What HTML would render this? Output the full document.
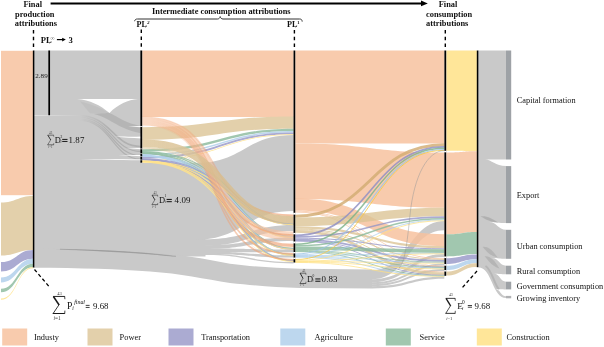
<!DOCTYPE html>
<html><head><meta charset="utf-8">
<style>
html,body{margin:0;padding:0;background:#fff;}
body{width:604px;height:347px;overflow:hidden;position:relative;}
svg{position:absolute;left:0;top:0;font-family:"Liberation Serif",serif;will-change:transform;}
</style></head><body>
<svg width="604" height="347" viewBox="0 0 604 347">
<rect x="1" y="50.8" width="32.2" height="144.4" fill="#F8CBAD"/>
<path d="M1,202.5 C16,202.5 18,196 33.2,196 L33.2,250 C18,250 16,255.5 1,255.5 Z" fill="#E3D0AB"/>
<path d="M1,262.1 C17.1,262.1 17.1,250 33.2,250 L33.2,258.8 C17.1,258.8 17.1,271.5 1,271.5 Z" fill="#ABABD2"/>
<path d="M1,277.5 C17.1,277.5 17.1,258.8 33.2,258.8 L33.2,263.8 C17.1,263.8 17.1,282.4 1,282.4 Z" fill="#BDD7EE"/>
<path d="M1,288.8 C17.1,288.8 17.1,263.8 33.2,263.8 L33.2,267.2 C17.1,267.2 17.1,292.2 1,292.2 Z" fill="#A1C7AF"/>
<path d="M1,298.5 C17.1,298.5 17.1,267.2 33.2,267.2 L33.2,268.2 C17.1,268.2 17.1,299.7 1,299.7 Z" fill="#FFE699"/>
<path d="M34,50.5 L141.3,50.5 L141.3,162.7 L205.5,162.7 L205.5,256.6 L176,256.6 L175,256.3 C140,252.5 100,250 34,249 Z" fill="#C9C9C9"/>
<path d="M34,248.6 C80,249.2 120,250.8 150,252.5 C180,254 205,259 230,263.7 C255,267 275,268 300,268.8 L372,269.5 L372,288.5 L300,288 C275,287.5 255,285.5 230,283 C205,279 180,273.5 150,271.5 C120,269 80,268 34,267.7 Z" fill="#C9C9C9"/>
<path d="M77,99 L138,99 C128,100 118,104 109.5,113 C100,105 90,100 77,99 Z" fill="#fff"/>
<path d="M108.7,112.7 C118,116.5 126,123.5 141,125.9 L141,133.2 C128,131 118,125.5 108,119.5 C103,116.8 99,115.2 94,114 C99,113.8 104,113.5 108.7,112.7 Z" fill="#8c8c8c" fill-opacity="0.32"/>
<path d="M80,101.5 C92,104 100,108 108.7,112.7 C101,113.6 96,113.8 90,113.2 C87,110 84,106 80,101.5 Z" fill="#8c8c8c" fill-opacity="0.12"/>
<linearGradient id="gsg" x1="80" y1="0" x2="108" y2="0" gradientUnits="userSpaceOnUse"><stop offset="0" stop-color="#8c8c8c" stop-opacity="0"/><stop offset="1" stop-color="#8c8c8c" stop-opacity="0.4"/></linearGradient>
<path d="M78,115.5 C112,115.5 112,146.5 141,146.5" fill="none" stroke="url(#gsg)" stroke-width="1.6"/>
<path d="M78,117.2 C112,117.2 112,151.5 141,151.5" fill="none" stroke="url(#gsg)" stroke-width="1.3"/>
<path d="M78,118.8 C112,118.8 112,155.5 141,155.5" fill="none" stroke="url(#gsg)" stroke-width="1.3"/>
<path d="M78,120.2 C112,120.2 112,159.2 141,159.2" fill="none" stroke="url(#gsg)" stroke-width="1.2"/>
<path d="M34,115.2 L82,115.6 L34,116.1 Z" fill="#fff" fill-opacity="0.55"/>
<path d="M128,126.4 L141,126 L141,127.3 Z" fill="#fff"/>
<path d="M115,136.5 C125,136.5 132,137 141,136.5 L141,138.5 C132,138 125,137.5 115,136.5 Z" fill="#fff"/>
<path d="M126,148 L141,148 L141,149.3 Z" fill="#fff"/>
<path d="M118,155 L141,155 L141,156.3 Z" fill="#fff"/>
<path d="M80,159 C100,159 115,159 141,159.2 L141,160.3 C115,160 100,159.6 80,159 Z" fill="#fff" fill-opacity="0.85"/>
<path d="M55,249 C100,249.8 140,251.6 176,256.4 C140,253.4 100,251.2 55,249 Z" fill="#8c8c8c" fill-opacity="0.55"/>
<path d="M60,249.2 C100,250 140,251.8 176,256.4" fill="none" stroke="#8c8c8c" stroke-opacity="0.45" stroke-width="1.1"/>
<path d="M195,163.0 C244.3,163.0 244.3,134.9 293.6,134.9 L293.6,211.10000000000002 C244.3,211.10000000000002 244.3,239.7 195,239.7 Z" fill="#C9C9C9"/>
<path d="M205,239.2 C249.3,239.2 249.3,224.99999999999997 293.6,224.99999999999997 L293.6,230.99999999999997 C249.3,230.99999999999997 249.3,245.7 205,245.7 Z" fill="#C9C9C9"/>
<path d="M205,245.2 C249.3,245.2 249.3,237.6 293.6,237.6 L293.6,241.0 C249.3,241.0 249.3,249.1 205,249.1 Z" fill="#C9C9C9"/>
<path d="M205,248.6 C249.3,248.6 249.3,249.5 293.6,249.5 L293.6,252.3 C249.3,252.3 249.3,251.9 205,251.9 Z" fill="#C9C9C9"/>
<path d="M205,251.4 C249.3,251.4 249.3,255.4 293.6,255.4 L293.6,257.6 C249.3,257.6 249.3,254.1 205,254.1 Z" fill="#C9C9C9"/>
<path d="M205,253.6 C249.3,253.6 249.3,262.0000000000001 293.6,262.0000000000001 L293.6,263.4000000000001 C249.3,263.4000000000001 249.3,255.0 205,255.0 Z" fill="#C9C9C9"/>
<path d="M142.3,50.5 C217.95000000000002,50.5 217.95000000000002,50.5 293.6,50.5 L293.6,117.1 C217.95000000000002,117.1 217.95000000000002,117.1 142.3,117.1 Z" fill="#F8CBAD"/>
<path d="M142.3,127.2 C217.95000000000002,127.2 217.95000000000002,116.5 293.6,116.5 L293.6,128.7 C217.95000000000002,128.7 217.95000000000002,139.9 142.3,139.9 Z" fill="#E3D0AB"/>
<path d="M142.3,149.2 C222,149.2 222,128.7 293.6,128.7 L293.6,131.0 C222,131.0 222,151.5 142.3,151.5 Z" fill="#97c1a6" fill-opacity="0.9"/>
<path d="M142.3,153.9 C222,153.9 222,131.0 293.6,131.0 L293.6,132.5 C222,132.5 222,155.4 142.3,155.4 Z" fill="#b6d3ec" fill-opacity="0.9"/>
<path d="M142.3,156.8 C222,156.8 222,132.5 293.6,132.5 L293.6,134.3 C222,134.3 222,158.60000000000002 142.3,158.60000000000002 Z" fill="#a2a2cd" fill-opacity="0.9"/>
<path d="M142.3,160.2 C222,160.2 222,134.3 293.6,134.3 L293.6,134.9 C222,134.9 222,160.79999999999998 142.3,160.79999999999998 Z" fill="#ffe38e" fill-opacity="0.9"/>
<path d="M142.3,147.30 C234,147.30 214,236.00 293.6,236.00" fill="none" stroke="#dec89c" stroke-opacity="0.85" stroke-width="0.60"/>
<path d="M142.3,147.90 C234,147.90 214,247.90 293.6,247.90" fill="none" stroke="#dec89c" stroke-opacity="0.85" stroke-width="0.60"/>
<path d="M142.3,148.35 C234,148.35 214,254.55 293.6,254.55" fill="none" stroke="#dec89c" stroke-opacity="0.85" stroke-width="0.30"/>
<path d="M142.3,148.65 C234,148.65 214,260.45 293.6,260.45" fill="none" stroke="#dec89c" stroke-opacity="0.85" stroke-width="0.30"/>
<path d="M142.3,151.70 C234,151.70 230,224.00 293.6,224.00" fill="none" stroke="#94bfa4" stroke-opacity="0.88" stroke-width="1.10"/>
<path d="M142.3,152.10 C234,152.10 230,236.50 293.6,236.50" fill="none" stroke="#94bfa4" stroke-opacity="0.88" stroke-width="1.10"/>
<path d="M142.3,152.75 C234,152.75 230,248.65 293.6,248.65" fill="none" stroke="#94bfa4" stroke-opacity="0.88" stroke-width="1.10"/>
<path d="M142.3,153.30 C234,153.30 230,254.80 293.6,254.80" fill="none" stroke="#94bfa4" stroke-opacity="0.88" stroke-width="1.10"/>
<path d="M142.3,153.45 C234,153.45 230,260.65 293.6,260.65" fill="none" stroke="#94bfa4" stroke-opacity="0.88" stroke-width="1.10"/>
<path d="M142.3,155.45 C234,155.45 230,224.25 293.6,224.25" fill="none" stroke="#b4d2ec" stroke-opacity="0.88" stroke-width="1.10"/>
<path d="M142.3,155.60 C234,155.60 230,236.80 293.6,236.80" fill="none" stroke="#b4d2ec" stroke-opacity="0.88" stroke-width="1.10"/>
<path d="M142.3,155.80 C234,155.80 230,249.20 293.6,249.20" fill="none" stroke="#b4d2ec" stroke-opacity="0.88" stroke-width="1.10"/>
<path d="M142.3,156.05 C234,156.05 230,255.05 293.6,255.05" fill="none" stroke="#b4d2ec" stroke-opacity="0.88" stroke-width="1.10"/>
<path d="M142.3,156.25 C234,156.25 230,260.75 293.6,260.75" fill="none" stroke="#b4d2ec" stroke-opacity="0.88" stroke-width="1.10"/>
<path d="M142.3,158.70 C234,158.70 230,224.40 293.6,224.40" fill="none" stroke="#a0a0cc" stroke-opacity="0.88" stroke-width="1.10"/>
<path d="M142.3,159.10 C234,159.10 230,237.20 293.6,237.20" fill="none" stroke="#a0a0cc" stroke-opacity="0.88" stroke-width="1.10"/>
<path d="M142.3,159.45 C234,159.45 230,249.35 293.6,249.35" fill="none" stroke="#a0a0cc" stroke-opacity="0.88" stroke-width="1.10"/>
<path d="M142.3,159.55 C234,159.55 230,255.25 293.6,255.25" fill="none" stroke="#a0a0cc" stroke-opacity="0.88" stroke-width="1.10"/>
<path d="M142.3,159.65 C234,159.65 230,260.85 293.6,260.85" fill="none" stroke="#a0a0cc" stroke-opacity="0.88" stroke-width="1.10"/>
<path d="M142.3,161.05 C234,161.05 230,224.75 293.6,224.75" fill="none" stroke="#ffe38b" stroke-opacity="0.88" stroke-width="1.10"/>
<path d="M142.3,161.35 C234,161.35 230,237.55 293.6,237.55" fill="none" stroke="#ffe38b" stroke-opacity="0.88" stroke-width="1.10"/>
<path d="M142.3,161.45 C234,161.45 230,249.45 293.6,249.45" fill="none" stroke="#ffe38b" stroke-opacity="0.88" stroke-width="1.10"/>
<path d="M142.3,161.55 C234,161.55 230,255.35 293.6,255.35" fill="none" stroke="#ffe38b" stroke-opacity="0.88" stroke-width="1.10"/>
<path d="M142.3,162.15 C234,162.15 230,261.45 293.6,261.45" fill="none" stroke="#ffe38b" stroke-opacity="0.88" stroke-width="1.10"/>
<path d="M142.3,121.0 C234,121.0 194,236 293.6,236" fill="none" stroke="#F6C09C" stroke-opacity="0.6" stroke-width="8.8"/>
<linearGradient id="org" x1="150" y1="0" x2="294" y2="0" gradientUnits="userSpaceOnUse"><stop offset="0" stop-color="#EE9F70" stop-opacity="0"/><stop offset="0.38" stop-color="#EE9F70" stop-opacity="0.42"/><stop offset="1" stop-color="#F0A478" stop-opacity="0.7"/></linearGradient>
<path d="M142.3,117.30 C234,117.30 194,215.40 293.6,215.40" fill="none" stroke="url(#org)" stroke-width="1.60"/>
<path d="M142.3,118.80 C234,118.80 194,235.00 293.6,235.00" fill="none" stroke="url(#org)" stroke-width="1.60"/>
<path d="M142.3,121.65 C234,121.65 194,245.45 293.6,245.45" fill="none" stroke="url(#org)" stroke-width="3.22"/>
<path d="M142.3,124.30 C234,124.30 194,253.90 293.6,253.90" fill="none" stroke="url(#org)" stroke-width="1.60"/>
<path d="M142.3,125.40 C234,125.40 194,259.70 293.6,259.70" fill="none" stroke="url(#org)" stroke-width="1.60"/>
<linearGradient id="tang" x1="142" y1="0" x2="294" y2="0" gradientUnits="userSpaceOnUse"><stop offset="0" stop-color="#E3D0AB" stop-opacity="1"/><stop offset="0.45" stop-color="#D8BE90" stop-opacity="0.8"/><stop offset="1" stop-color="#D6BB8C" stop-opacity="0.85"/></linearGradient>
<path d="M142.3,143.20 C234,143.20 214,220.00 293.6,220.00" fill="none" stroke="url(#tang)" stroke-width="7.60"/>
<path d="M372,270.0 C408,270.0 410,221.1 444.3,221.1 L444.3,230.29999999999998 C410,230.29999999999998 408,279.2 372,279.2 Z" fill="#b4b4b4" fill-opacity="0.72"/>
<path d="M372,279.2 C408,279.2 410,254.0 444.3,254.0 L444.3,257.0 C410,257.0 408,282.2 372,282.2 Z" fill="#a5a5a5" fill-opacity="0.6"/>
<path d="M372,282.2 C408,282.2 410,263.4 444.3,263.4 L444.3,265.5 C410,265.5 408,284.3 372,284.3 Z" fill="#a5a5a5" fill-opacity="0.6"/>
<path d="M372,284.3 C408,284.3 410,269.1000000000001 444.3,269.1000000000001 L444.3,271.1000000000001 C410,271.1000000000001 408,286.3 372,286.3 Z" fill="#a5a5a5" fill-opacity="0.6"/>
<path d="M372,286.3 C408,286.3 410,276.6 444.3,276.6 L444.3,278.8 C410,278.8 408,288.5 372,288.5 Z" fill="#a5a5a5" fill-opacity="0.6"/>
<path d="M295.3,50.5 C369.8,50.5 369.8,50.5 444.3,50.5 L444.3,143.4 C369.8,143.4 369.8,143.5 295.3,143.5 Z" fill="#F8CBAD"/>
<path d="M295.3,143.4 C369.8,143.4 369.8,152.5 444.3,152.5 L444.3,207.7 C369.8,207.7 369.8,198.95000000000002 295.3,198.95000000000002 Z" fill="#F8CBAD"/>
<path d="M295.3,198.60000000000002 C369.8,198.60000000000002 369.8,234.3 444.3,234.3 L444.3,246.10000000000002 C369.8,246.10000000000002 369.8,210.40000000000003 295.3,210.40000000000003 Z" fill="#f7c29f" fill-opacity="0.85"/>
<path d="M295.3,210.40000000000003 C369.8,210.40000000000003 369.8,258.2 444.3,258.2 L444.3,259.0 C369.8,259.0 369.8,211.20000000000005 295.3,211.20000000000005 Z" fill="#f7c29f" fill-opacity="0.85"/>
<path d="M295.3,211.20000000000005 C369.8,211.20000000000005 369.8,265.8 444.3,265.8 L444.3,266.40000000000003 C369.8,266.40000000000003 369.8,211.80000000000004 295.3,211.80000000000004 Z" fill="#f7c29f" fill-opacity="0.85"/>
<path d="M295.3,211.80000000000004 C369.8,211.80000000000004 369.8,271.6 444.3,271.6 L444.3,272.40000000000003 C369.8,272.40000000000003 369.8,212.60000000000005 295.3,212.60000000000005 Z" fill="#f7c29f" fill-opacity="0.85"/>
<path d="M295.3,216.30 C370,216.30 370,144.70 444.3,144.70" fill="none" stroke="#d2ac73" stroke-opacity="0.82" stroke-width="2.86"/>
<path d="M295.3,221.90 C370,221.90 370,212.00 444.3,212.00" fill="none" stroke="#dcc496" stroke-opacity="0.8" stroke-width="8.60"/>
<path d="M295.3,227.30 C370,227.30 370,247.20 444.3,247.20" fill="none" stroke="#dcc496" stroke-opacity="0.8" stroke-width="2.20"/>
<path d="M295.3,228.90 C370,228.90 370,259.50 444.3,259.50" fill="none" stroke="#dcc496" stroke-opacity="0.8" stroke-width="1.00"/>
<path d="M295.3,229.70 C370,229.70 370,266.70 444.3,266.70" fill="none" stroke="#dcc496" stroke-opacity="0.8" stroke-width="0.90"/>
<path d="M295.3,231.35 C370,231.35 370,273.75 444.3,273.75" fill="none" stroke="#dcc496" stroke-opacity="0.8" stroke-width="2.70"/>
<path d="M295.3,235.30 C370,235.30 370,146.80 444.3,146.80" fill="none" stroke="#8f8fc3" stroke-opacity="0.82" stroke-width="1.76"/>
<path d="M295.3,236.90 C370,236.90 370,217.10 444.3,217.10" fill="none" stroke="#9696c7" stroke-opacity="0.8" stroke-width="1.60"/>
<path d="M295.3,238.20 C370,238.20 370,248.80 444.3,248.80" fill="none" stroke="#9696c7" stroke-opacity="0.8" stroke-width="1.00"/>
<path d="M295.3,239.60 C370,239.60 370,260.90 444.3,260.90" fill="none" stroke="#9696c7" stroke-opacity="0.8" stroke-width="1.80"/>
<path d="M295.3,240.65 C370,240.65 370,267.15 444.3,267.15" fill="none" stroke="#9696c7" stroke-opacity="0.8" stroke-width="0.90"/>
<path d="M295.3,241.00 C370,241.00 370,275.30 444.3,275.30" fill="none" stroke="#9696c7" stroke-opacity="0.8" stroke-width="0.90"/>
<path d="M295.3,244.20 C370,244.20 370,148.30 444.3,148.30" fill="none" stroke="#7db28a" stroke-opacity="0.82" stroke-width="1.54"/>
<path d="M295.3,245.70 C370,245.70 370,218.70 444.3,218.70" fill="none" stroke="#8ab99b" stroke-opacity="0.8" stroke-width="1.60"/>
<path d="M295.3,248.30 C370,248.30 370,251.10 444.3,251.10" fill="none" stroke="#8ab99b" stroke-opacity="0.8" stroke-width="3.60"/>
<path d="M295.3,250.45 C370,250.45 370,262.15 444.3,262.15" fill="none" stroke="#8ab99b" stroke-opacity="0.8" stroke-width="0.90"/>
<path d="M295.3,251.05 C370,251.05 370,267.55 444.3,267.55" fill="none" stroke="#8ab99b" stroke-opacity="0.8" stroke-width="0.90"/>
<path d="M295.3,251.55 C370,251.55 370,275.75 444.3,275.75" fill="none" stroke="#8ab99b" stroke-opacity="0.8" stroke-width="0.90"/>
<path d="M295.3,254.00 C370,254.00 370,149.50 444.3,149.50" fill="none" stroke="#9fc4e7" stroke-opacity="0.82" stroke-width="1.10"/>
<path d="M295.3,254.90 C370,254.90 370,219.90 444.3,219.90" fill="none" stroke="#accdea" stroke-opacity="0.8" stroke-width="0.90"/>
<path d="M295.3,255.60 C370,255.60 370,253.20 444.3,253.20" fill="none" stroke="#accdea" stroke-opacity="0.8" stroke-width="0.90"/>
<path d="M295.3,256.10 C370,256.10 370,262.70 444.3,262.70" fill="none" stroke="#accdea" stroke-opacity="0.8" stroke-width="0.90"/>
<path d="M295.3,256.70 C370,256.70 370,268.20 444.3,268.20" fill="none" stroke="#accdea" stroke-opacity="0.8" stroke-width="0.90"/>
<path d="M295.3,257.15 C370,257.15 370,276.05 444.3,276.05" fill="none" stroke="#accdea" stroke-opacity="0.8" stroke-width="0.90"/>
<path d="M295.3,259.55 C370,259.55 370,150.35 444.3,150.35" fill="none" stroke="#f6cb47" stroke-opacity="0.82" stroke-width="1.00"/>
<path d="M295.3,260.30 C370,260.30 370,220.70 444.3,220.70" fill="none" stroke="#ffe080" stroke-opacity="0.8" stroke-width="0.90"/>
<path d="M295.3,260.95 C370,260.95 370,253.75 444.3,253.75" fill="none" stroke="#ffe080" stroke-opacity="0.8" stroke-width="0.90"/>
<path d="M295.3,261.45 C370,261.45 370,263.15 444.3,263.15" fill="none" stroke="#ffe080" stroke-opacity="0.8" stroke-width="0.90"/>
<path d="M295.3,261.95 C370,261.95 370,268.85 444.3,268.85" fill="none" stroke="#ffe080" stroke-opacity="0.8" stroke-width="0.90"/>
<path d="M295.3,262.45 C370,262.45 370,276.35 444.3,276.35" fill="none" stroke="#ffe080" stroke-opacity="0.8" stroke-width="0.90"/>
<path d="M444.3,150.6 C428,150.6 414,175 410,215 S404,262 398,269.8" stroke="#999" stroke-width="0.5" fill="none"/>
<path d="M446.4,50.5 C461.65,50.5 461.65,50.5 476.9,50.5 L476.9,151.2 C461.65,151.2 461.65,150.7 446.4,150.7 Z" fill="#FFE699"/>
<path d="M446.4,152.5 C461.65,152.5 461.65,151.2 476.9,151.2 L476.9,231.9 C461.65,231.9 461.65,234.3 446.4,234.3 Z" fill="#F8CBAD"/>
<path d="M446.4,234.3 C461.65,234.3 461.65,231.9 476.9,231.9 L476.9,254 C461.65,254 461.65,256.4 446.4,256.4 Z" fill="#A1C7AF"/>
<path d="M446.4,258.2 C461.65,258.2 461.65,254.5 476.9,254.5 L476.9,259.3 C461.65,259.3 461.65,264.0 446.4,264.0 Z" fill="#ABABD2"/>
<path d="M446.4,265.8 C461.65,265.8 461.65,259.3 476.9,259.3 L476.9,263.2 C461.65,263.2 461.65,270.0 446.4,270.0 Z" fill="#BDD7EE"/>
<path d="M446.4,271.6 C461.65,271.6 461.65,263.2 476.9,263.2 L476.9,267.0 C461.65,267.0 461.65,275.5 446.4,275.5 Z" fill="#E3D0AB"/>
<path d="M478.4,50.5 L506,50.5 L506,298 C492.2,298 492.2,267.4 478.4,267.4 Z" fill="#C9C9C9"/>
<path d="M485,159.5 L506.3,159.5 L506.3,166.1 C495,166.1 492,159.6 485,159.5 Z" fill="#fff"/>
<path d="M489,222.0 C497.5,222.0 497.5,223.1 506.3,223.1 L506.3,229.8 C497.5,229.8 497.5,222.0 489,222.0 Z" fill="#fff"/>
<path d="M492,258.0 C499.0,258.0 499.0,258.8 506.3,258.8 L506.3,265.7 C499.0,265.7 499.0,258.0 492,258.0 Z" fill="#fff"/>
<path d="M494,273.8 C500.0,273.8 500.0,274.3 506.3,274.3 L506.3,281.7 C500.0,281.7 500.0,273.8 494,273.8 Z" fill="#fff"/>
<path d="M495,289.0 C500.5,289.0 500.5,289.4 506.3,289.4 L506.3,296.3 C500.5,296.3 500.5,289.0 495,289.0 Z" fill="#fff"/>
<path d="M480.6,216.4 C487.55,215.9 491.55,218.16 498.5,223.0 C487.55,221.23999999999998 483.6,217.72 480.6,216.4 Z" fill="#8c8c8c" fill-opacity="0.4"/>
<path d="M482.6,246.9 C488.1,246.4 492.1,249.31 497.6,257.6 C488.1,255.19 485.6,249.42000000000002 482.6,246.9 Z" fill="#8c8c8c" fill-opacity="0.32"/>
<path d="M484.7,256.4 C490.04999999999995,255.89999999999998 494.04999999999995,259.59999999999997 499.4,268.4 C490.04999999999995,265.2 487.7,258.79999999999995 484.7,256.4 Z" fill="#8c8c8c" fill-opacity="0.32"/>
<path d="M485.5,266 C492,270 494,284 499,289.5" stroke="#8c8c8c" stroke-width="2" stroke-opacity="0.3" fill="none"/>
<rect x="506" y="50.5" width="5.2" height="109" fill="#9EA2A6"/>
<rect x="506" y="166.1" width="5.2" height="57" fill="#9EA2A6"/>
<rect x="506" y="229.8" width="5.2" height="29" fill="#9EA2A6"/>
<rect x="506" y="265.7" width="5.2" height="8.6" fill="#9EA2A6"/>
<rect x="506" y="281.7" width="5.2" height="7.7" fill="#9EA2A6"/>
<rect x="506" y="295.9" width="5.2" height="2.4" fill="#B0B1B3"/>
<rect x="32.85" y="50.5" width="1.5" height="217.0" fill="#000"/>
<rect x="48.35" y="50.5" width="1.7" height="64.7" fill="#000"/>
<rect x="140.4" y="50.5" width="1.8" height="112.19999999999999" fill="#000"/>
<rect x="293.54999999999995" y="50.5" width="1.7" height="212.0" fill="#000"/>
<rect x="444.40000000000003" y="50.5" width="1.8" height="225.3" fill="#000"/>
<rect x="476.8" y="50.5" width="1.6" height="216.7" fill="#000"/>
<rect x="140.10000000000002" y="126.2" width="2.4" height="0.7999999999999972" fill="#fff"/>
<rect x="140.10000000000002" y="148.6" width="2.4" height="0.5999999999999943" fill="#fff"/>
<rect x="140.10000000000002" y="153.4" width="2.4" height="0.5" fill="#fff"/>
<rect x="140.10000000000002" y="156.3" width="2.4" height="0.5" fill="#fff"/>
<rect x="140.10000000000002" y="159.7" width="2.4" height="0.5" fill="#fff"/>
<rect x="293.2" y="212.8" width="2.4" height="1.799999999999983" fill="#fff"/>
<rect x="293.2" y="232.9" width="2.4" height="1.4000000000000057" fill="#fff"/>
<rect x="293.2" y="241.5" width="2.4" height="1.8000000000000114" fill="#fff"/>
<rect x="293.2" y="252" width="2.4" height="1.4000000000000057" fill="#fff"/>
<rect x="293.2" y="257.6" width="2.4" height="1.5" fill="#fff"/>
<rect x="444.1" y="150.8" width="2.4" height="1.5" fill="#fff"/>
<rect x="444.1" y="256.5" width="2.4" height="1.6000000000000227" fill="#fff"/>
<rect x="444.1" y="264.1" width="2.4" height="1.599999999999966" fill="#fff"/>
<rect x="444.1" y="270.1" width="2.4" height="1.3999999999999773" fill="#fff"/>
<line x1="33.5" y1="30" x2="33.5" y2="50" stroke="#000" stroke-width="1.4" stroke-dasharray="3.5 3.3"/>
<line x1="141.3" y1="29.6" x2="141.3" y2="50" stroke="#000" stroke-width="1.4" stroke-dasharray="3.5 3.3"/>
<line x1="294.4" y1="30" x2="294.4" y2="50" stroke="#000" stroke-width="1.4" stroke-dasharray="3.5 3.3"/>
<line x1="445.3" y1="30" x2="445.3" y2="50" stroke="#000" stroke-width="1.4" stroke-dasharray="3.5 3.3"/>
<line x1="34.5" y1="269.5" x2="49" y2="286.5" stroke="#000" stroke-width="1.3" stroke-dasharray="3.5 2.6"/>
<line x1="477" y1="271" x2="462" y2="288" stroke="#000" stroke-width="1.3" stroke-dasharray="3.5 2.6"/>
<rect x="50.6" y="2.5" width="371" height="2" fill="#000"/>
<path d="M421,0.5 L427.8,3.4 L421,6.2 Z" fill="#000"/>
<path d="M134.6,21.2 C135,19.5 135.8,19 137.5,19 L217.5,19 C219,19 219.8,18 220.2,16.6 C220.6,18 221.4,19 223,19 L299.5,19 C301.2,19 302,19.6 302.2,21.6" fill="none" stroke="#333" stroke-width="1.0"/>
<text x="23.4" y="6.9" font-size="8.4" font-weight="bold" text-anchor="start" fill="#111">Final</text>
<text x="15.1" y="16.5" font-size="8.4" font-weight="bold" text-anchor="start" fill="#111">production</text>
<text x="14.7" y="25.6" font-size="8.4" font-weight="bold" text-anchor="start" fill="#111">attributions</text>
<text x="152" y="14.4" font-size="8.35" font-weight="bold" text-anchor="start" fill="#111">Intermediate consumption attributions</text>
<text x="136.6" y="26.8" font-size="8.2" font-weight="bold" text-anchor="start" fill="#111">PL</text>
<text x="147.2" y="23.6" font-size="4.6" font-weight="bold" text-anchor="start" font-style="italic" fill="#111">2</text>
<text x="145.2" y="27.6" font-size="3" font-weight="normal" text-anchor="start" font-style="italic" fill="#111">i</text>
<text x="286.9" y="27.3" font-size="8.2" font-weight="bold" text-anchor="start" fill="#111">PL</text>
<text x="297.3" y="24.0" font-size="4.6" font-weight="bold" text-anchor="start" fill="#111">1</text>
<text x="295.4" y="28.1" font-size="3" font-weight="normal" text-anchor="start" font-style="italic" fill="#111">i</text>
<text x="438.7" y="7.1" font-size="8.4" font-weight="bold" text-anchor="start" fill="#111">Final</text>
<text x="426" y="16.6" font-size="8.4" font-weight="bold" text-anchor="start" fill="#111">consumption</text>
<text x="426" y="26.1" font-size="8.4" font-weight="bold" text-anchor="start" fill="#111">attributions</text>
<text x="40.7" y="42.8" font-size="8.6" font-weight="bold" text-anchor="start" fill="#111">PL</text>
<text x="50.6" y="39.6" font-size="5.6" font-weight="normal" text-anchor="start" fill="#666">∞</text>
<text x="49.4" y="43.6" font-size="3" font-weight="normal" text-anchor="start" font-style="italic" fill="#111">i</text>
<rect x="56.9" y="39.0" width="6" height="1.2" fill="#000"/><path d="M62.2,37.8 L65.8,39.6 L62.2,41.4 Z" fill="#000"/>
<text x="68.6" y="42.8" font-size="8.6" font-weight="bold" text-anchor="start" fill="#111">3</text>
<text x="35.3" y="77.8" font-size="7.1" font-weight="normal" text-anchor="start" fill="#222">2.89</text>
<text x="516.8" y="102.7" font-size="8.3" font-weight="normal" text-anchor="start" fill="#111">Capital formation</text>
<text x="516.8" y="197.7" font-size="8.3" font-weight="normal" text-anchor="start" fill="#111">Export</text>
<text x="516.8" y="248.5" font-size="8.3" font-weight="normal" text-anchor="start" fill="#111">Urban consumption</text>
<text x="516.8" y="273.6" font-size="8.3" font-weight="normal" text-anchor="start" fill="#111">Rural consumption</text>
<text x="516.8" y="288.6" font-size="8.3" font-weight="normal" text-anchor="start" fill="#111">Government consumption</text>
<text x="516.8" y="300.6" font-size="8.3" font-weight="normal" text-anchor="start" fill="#111">Growing inventory</text>
<rect x="2.2" y="328.5" width="25" height="17" fill="#F8CBAD"/>
<text x="33.9" y="340" font-size="8.35" font-weight="normal" text-anchor="start" fill="#111">Industy</text>
<rect x="87.5" y="328.5" width="25" height="17" fill="#E3D0AB"/>
<text x="119.6" y="340" font-size="8.35" font-weight="normal" text-anchor="start" fill="#111">Power</text>
<rect x="168.5" y="328.5" width="25" height="17" fill="#ABABD2"/>
<text x="201.2" y="340" font-size="8.35" font-weight="normal" text-anchor="start" fill="#111">Transportation</text>
<rect x="280.3" y="328.5" width="25" height="17" fill="#BDD7EE"/>
<text x="314.5" y="340" font-size="8.35" font-weight="normal" text-anchor="start" fill="#111">Agriculture</text>
<rect x="385.8" y="328.5" width="25" height="17" fill="#A1C7AF"/>
<text x="419.6" y="340" font-size="8.35" font-weight="normal" text-anchor="start" fill="#111">Service</text>
<rect x="476.8" y="328.5" width="25" height="17" fill="#FFE699"/>
<text x="506.5" y="340" font-size="8.35" font-weight="normal" text-anchor="start" fill="#111">Construction</text>
<path d="M47.67,135.16 L53.57,135.16" stroke="#1a1a1a" stroke-width="0.54" fill="none"/><path d="M53.57,134.90 L53.74,136.71" stroke="#1a1a1a" stroke-width="0.45" fill="none"/><path d="M47.84,135.18 L50.78,140.00" stroke="#1a1a1a" stroke-width="0.85" fill="none"/><path d="M50.78,139.77 L47.67,144.82" stroke="#1a1a1a" stroke-width="0.48" fill="none"/><path d="M47.50,144.82 L53.69,144.82" stroke="#1a1a1a" stroke-width="0.57" fill="none"/><path d="M53.63,144.99 L53.74,143.17" stroke="#1a1a1a" stroke-width="0.45" fill="none"/>
<text x="49.1" y="133.8" font-size="3.1" font-weight="normal" text-anchor="start" fill="#444">43</text>
<text x="48.3" y="147.8" font-size="3.1" font-weight="normal" text-anchor="start" fill="#444">i=1</text>
<text x="54.7" y="142.6" font-size="8.4" font-weight="normal" text-anchor="start" fill="#111">D</text>
<text x="60.4" y="138.2" font-size="3.6" font-weight="normal" text-anchor="start" fill="#111">2</text>
<text x="60.6" y="142.9" font-size="3.6" font-weight="normal" text-anchor="start" font-style="italic" fill="#111">i</text>
<rect x="62.2" y="138.9" width="5.299999999999997" height="1.05" fill="#222"/><rect x="62.2" y="140.95" width="5.299999999999997" height="1.05" fill="#222"/>
<text x="68.5" y="142.6" font-size="8.9" letter-spacing="0.1" fill="#111">1.87</text>
<path d="M151.97,195.15 L157.58,195.15" stroke="#1a1a1a" stroke-width="0.53" fill="none"/><path d="M157.58,194.90 L157.74,196.68" stroke="#1a1a1a" stroke-width="0.44" fill="none"/><path d="M152.13,195.18 L154.92,199.90" stroke="#1a1a1a" stroke-width="0.83" fill="none"/><path d="M154.92,199.68 L151.97,204.62" stroke="#1a1a1a" stroke-width="0.47" fill="none"/><path d="M151.80,204.62 L157.69,204.62" stroke="#1a1a1a" stroke-width="0.56" fill="none"/><path d="M157.63,204.79 L157.74,203.01" stroke="#1a1a1a" stroke-width="0.44" fill="none"/>
<text x="153.5" y="193.5" font-size="3.1" font-weight="normal" text-anchor="start" fill="#444">43</text>
<text x="152" y="207.8" font-size="3.1" font-weight="normal" text-anchor="start" fill="#444">i=1</text>
<text x="158.9" y="202.6" font-size="8.4" font-weight="normal" text-anchor="start" fill="#111">D</text>
<text x="164.6" y="197.4" font-size="3.6" font-weight="normal" text-anchor="start" fill="#111">1</text>
<text x="164.79999999999998" y="202.9" font-size="3.6" font-weight="normal" text-anchor="start" font-style="italic" fill="#111">i</text>
<rect x="166.6" y="198.9" width="5.200000000000017" height="1.1" fill="#222"/><rect x="166.6" y="201.1" width="5.200000000000017" height="1.1" fill="#222"/>
<text x="174.6" y="202.6" font-size="8.9" letter-spacing="0.1" fill="#111">4.09</text>
<path d="M299.98,273.17 L305.76,273.17" stroke="#1a1a1a" stroke-width="0.58" fill="none"/><path d="M305.76,272.90 L305.94,274.84" stroke="#1a1a1a" stroke-width="0.48" fill="none"/><path d="M300.16,273.20 L303.02,278.35" stroke="#1a1a1a" stroke-width="0.91" fill="none"/><path d="M303.02,278.11 L299.98,283.50" stroke="#1a1a1a" stroke-width="0.51" fill="none"/><path d="M299.80,283.50 L305.88,283.50" stroke="#1a1a1a" stroke-width="0.61" fill="none"/><path d="M305.82,283.68 L305.94,281.74" stroke="#1a1a1a" stroke-width="0.48" fill="none"/>
<text x="302.3" y="272.3" font-size="3.1" font-weight="normal" text-anchor="start" fill="#444">43</text>
<text x="300.3" y="286" font-size="3.1" font-weight="normal" text-anchor="start" fill="#444">i=1</text>
<text x="307.1" y="282.0" font-size="8.4" font-weight="normal" text-anchor="start" fill="#111">D</text>
<text x="312.4" y="277.2" font-size="3.6" font-weight="normal" text-anchor="start" fill="#111">0</text>
<text x="312.59999999999997" y="282.3" font-size="3.6" font-weight="normal" text-anchor="start" font-style="italic" fill="#111">i</text>
<rect x="315.3" y="278.4" width="5.199999999999989" height="1.1" fill="#222"/><rect x="315.3" y="280.7" width="5.199999999999989" height="1.1" fill="#222"/>
<text x="321.6" y="282.0" font-size="8.9" letter-spacing="0.1" fill="#111">0.83</text>
<path d="M53.10,296.45 L64.60,296.45" stroke="#1a1a1a" stroke-width="0.95" fill="none"/><path d="M64.60,296.00 L64.90,299.20" stroke="#1a1a1a" stroke-width="0.80" fill="none"/><path d="M53.40,296.50 L59.14,305.00" stroke="#1a1a1a" stroke-width="1.50" fill="none"/><path d="M59.14,304.60 L53.10,313.50" stroke="#1a1a1a" stroke-width="0.85" fill="none"/><path d="M52.80,313.50 L64.80,313.50" stroke="#1a1a1a" stroke-width="1.00" fill="none"/><path d="M64.70,313.80 L64.90,310.60" stroke="#1a1a1a" stroke-width="0.80" fill="none"/>
<text x="57.3" y="294.8" font-size="4.5" font-weight="normal" text-anchor="start" fill="#333">43</text>
<text x="53.6" y="320.2" font-size="5.3" font-weight="normal" text-anchor="start" fill="#333"><tspan font-style="italic">i</tspan>=1</text>
<text x="67.1" y="309.2" font-size="9.7" font-weight="normal" text-anchor="start" fill="#111">P</text>
<text x="74.2" y="304.0" font-size="5.9" font-weight="normal" text-anchor="start" font-style="italic" fill="#111">final</text>
<text x="72.3" y="310.4" font-size="5.4" font-weight="normal" text-anchor="start" font-style="italic" fill="#111">i</text>
<rect x="85.7" y="304.9" width="3.8999999999999915" height="0.85" fill="#222"/><rect x="85.7" y="306.95" width="3.8999999999999915" height="0.85" fill="#222"/>
<text x="93.0" y="308.9" font-size="8.9" font-weight="normal" text-anchor="start" fill="#111">9.68</text>
<path d="M445.76,298.39 L455.05,298.39" stroke="#1a1a1a" stroke-width="0.83" fill="none"/><path d="M455.05,298.00 L455.31,300.81" stroke="#1a1a1a" stroke-width="0.70" fill="none"/><path d="M446.03,298.44 L450.65,305.90" stroke="#1a1a1a" stroke-width="1.32" fill="none"/><path d="M450.65,305.55 L445.76,313.36" stroke="#1a1a1a" stroke-width="0.75" fill="none"/><path d="M445.50,313.36 L455.22,313.36" stroke="#1a1a1a" stroke-width="0.88" fill="none"/><path d="M455.14,313.62 L455.31,310.82" stroke="#1a1a1a" stroke-width="0.70" fill="none"/>
<text x="448.9" y="296.4" font-size="3.9" font-weight="normal" text-anchor="start" fill="#333">43</text>
<text x="446.2" y="319.5" font-size="4.6" font-weight="normal" text-anchor="start" fill="#333"><tspan font-style="italic">i</tspan>=1</text>
<text x="457.2" y="308.7" font-size="9.2" font-weight="normal" text-anchor="start" fill="#111">E</text>
<text x="462.1" y="304.3" font-size="5.4" font-weight="normal" text-anchor="start" fill="#111">0</text>
<text x="461.9" y="309.6" font-size="5.0" font-weight="normal" text-anchor="start" font-style="italic" fill="#111">i</text>
<rect x="467.8" y="305.0" width="4.199999999999989" height="0.85" fill="#222"/><rect x="467.8" y="306.75" width="4.199999999999989" height="0.85" fill="#222"/>
<text x="474.6" y="308.7" font-size="8.9" font-weight="normal" text-anchor="start" fill="#111">9.68</text>
</svg>
</body></html>
